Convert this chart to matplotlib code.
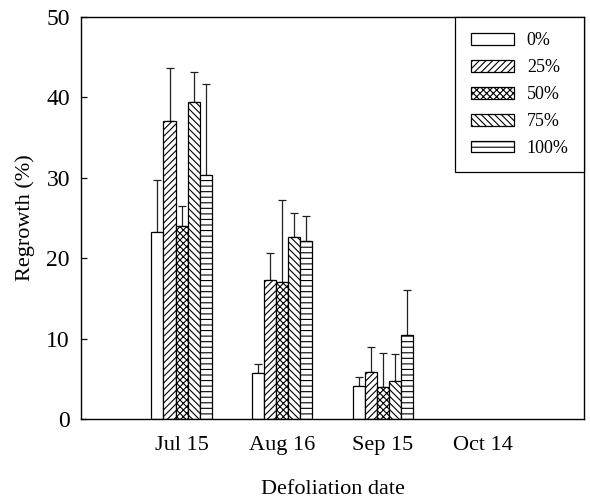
import matplotlib
matplotlib.use("Agg")
import matplotlib.pyplot as plt
import numpy as np

plt.rcParams['font.family'] = ['Liberation Serif', 'DejaVu Serif']
plt.rcParams['hatch.linewidth'] = 0.8

dates = ["Jul 15", "Aug 16", "Sep 15", "Oct 14"]
levels = ["0%", "25%", "50%", "75%", "100%"]

# means per defoliation level (Jul 15, Aug 16, Sep 15)
reg_0 = [23.2, 5.7, 4.1]
reg_25 = [37.1, 17.3, 5.9]
reg_50 = [24.0, 17.0, 4.0]
reg_75 = [39.4, 22.6, 4.7]
reg_100 = [30.3, 22.1, 10.5]

# upper error (SE)
err_0 = [6.5, 1.2, 1.1]
err_25 = [6.6, 3.4, 3.1]
err_50 = [2.5, 10.2, 4.2]
err_75 = [3.8, 3.0, 3.4]
err_100 = [11.4, 3.2, 5.5]

means = [reg_0, reg_25, reg_50, reg_75, reg_100]
errs = [err_0, err_25, err_50, err_75, err_100]
hatches = [None, '/////', 'xxxxx', '\\\\\\\\\\', '---']

fig = plt.figure(figsize=(5.9, 5.01), dpi=100)
ax = fig.add_axes([0.1373, 0.1637, 0.8525, 0.8023])

width = 0.12
xpos = np.arange(1, 4)
handles = []
for i, (m, e, h, lab) in enumerate(zip(means, errs, hatches, levels)):
    x = xpos + (i - 2) * width
    b = ax.bar(x, m, width=width, facecolor='white', edgecolor='black',
               linewidth=0.9, hatch=h, label=lab, zorder=2)
    ax.errorbar(x, m, yerr=[np.zeros(len(e)), e], fmt='none', ecolor='#222222',
                elinewidth=0.9, capsize=3.2, capthick=0.9, zorder=1)
    handles.append(b)

ax.set_xlim(0, 5)
ax.set_ylim(0, 50)
ax.set_xticks(np.arange(1, 5))
ax.set_xticklabels(dates)
ax.set_yticks(np.arange(0, 51, 10))
ax.tick_params(axis='x', length=0, pad=12, labelsize=16)
ax.tick_params(axis='y', direction='in', length=4, width=0.9, pad=8, labelsize=17)
for s in ax.spines.values():
    s.set_linewidth(1.0)

ax.set_xlabel("Defoliation date", fontsize=16, labelpad=18)
ax.set_ylabel("Regrowth (%)", fontsize=16, labelpad=8)

leg = ax.legend(handles=handles, labels=levels, loc='upper right',
                bbox_to_anchor=(1.0, 1.0), borderaxespad=0, fancybox=False,
                edgecolor='black', fontsize=13, handlelength=2.4,
                handleheight=0.6, handletextpad=0.7, labelspacing=0.55,
                borderpad=0.85, framealpha=1)
leg.get_frame().set_linewidth(0.9)

fig.savefig("out.png", dpi=100)
